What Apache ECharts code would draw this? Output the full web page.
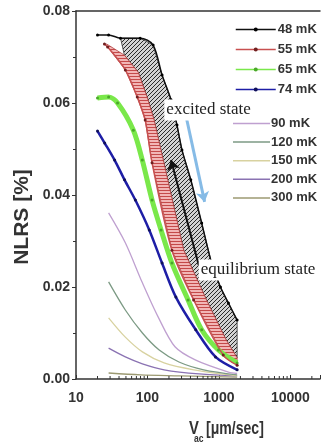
<!DOCTYPE html>
<html>
<head>
<meta charset="utf-8">
<script src="https://cdn.jsdelivr.net/npm/echarts@6/dist/echarts.min.js"></script>
<style>
  html, body { margin: 0; padding: 0; background: #fff; }
  #main { width: 323px; height: 448px; }
</style>
</head>
<body>
<div id="main"></div>
<script>
// [V_ac (um/sec), NLRS (%)]
const curve48 = [[20, 0.0748], [28.6, 0.0748], [42, 0.0741], [79, 0.0741], [120, 0.0726], [160, 0.0661],
  [214, 0.0607], [259, 0.0552], [304, 0.0498], [404, 0.0433], [574, 0.0339], [790, 0.0252],
  [1050, 0.0200], [1360, 0.0165], [1800, 0.0128]];
const curve55 = [[25, 0.0728], [27.7, 0.0722], [49, 0.0672], [72, 0.0613], [93, 0.0563], [116, 0.0470],
  [220, 0.0280], [443, 0.0172], [1150, 0.0052], [1800, 0.0030]];
// right edge of the red band (= left edge of the hatched area)
const curve55Edge = [[27, 0.0728], [47.6, 0.0704], [74.3, 0.0667], [99, 0.0613], [124, 0.0563], [170, 0.0470],
  [322, 0.0280], [670, 0.0172], [1265, 0.0085], [1800, 0.0046]];
const curve65 = [[20, 0.0611], [28.6, 0.0613], [38.2, 0.0600], [63.5, 0.0541], [84.7, 0.0476], [116, 0.0389],
  [155, 0.0324], [220, 0.0252], [370, 0.0172], [574, 0.0107], [986, 0.0063], [1800, 0.0035]];
const curve74 = [[20, 0.0539], [25.2, 0.0513], [34.7, 0.0476], [47.8, 0.0433], [67.7, 0.0389], [106, 0.0324],
  [160, 0.0252], [250, 0.0178], [474, 0.0107], [897, 0.0048], [1800, 0.0020]];
const curve90 = [[28.6, 0.0361], [49, 0.0296], [85, 0.0209], [141, 0.0135], [243, 0.0070], [474, 0.0041],
  [1360, 0.0015], [1800, 0.0012]];
const curve120 = [[28.6, 0.0211], [49, 0.0150], [85, 0.0100], [146, 0.0063], [276, 0.0037], [612, 0.0020], [1800, 0.0009]];
const curve150 = [[28.6, 0.0133], [49, 0.0091], [85, 0.0059], [171, 0.0035], [445, 0.0020], [1800, 0.0007]];
const curve200 = [[28.6, 0.0067], [49, 0.0048], [85, 0.0033], [171, 0.0020], [530, 0.0011], [1800, 0.0007]];
const curve300 = [[28.6, 0.0013], [80, 0.0009], [280, 0.0007], [1800, 0.0004]];

const legendTop = ['48 mK', '55 mK', '65 mK', '74 mK'];
const legendBottom = ['90 mK', '120 mK', '150 mK', '200 mK', '300 mK'];
const xLabels = [10, 100, 1000, 10000];
const minorTickValues = [20, 30, 40, 50, 60, 70, 80, 90, 200, 300, 400, 500, 600, 700, 800, 900,
  2000, 3000, 4000, 5000, 6000, 7000, 8000, 9000, 20000];

// arrows and notes, in data coords
const excitedArrow = [[344, 0.0574], [631, 0.0385]];
const equilArrow = [[521, 0.0248], [214, 0.0476]];
const excitedNote = [717, 0.0585];
const equilNote = [3530, 0.0237];

const SANS = '"Liberation Sans", Arial, sans-serif';
const SERIF = '"Liberation Serif", "Times New Roman", serif';

function makeHatch(bg, fg, size, horizontal) {
  const c = document.createElement('canvas');
  c.width = c.height = size;
  const ctx = c.getContext('2d');
  ctx.fillStyle = bg;
  ctx.fillRect(0, 0, size, size);
  ctx.strokeStyle = fg;
  ctx.lineWidth = 1;
  ctx.beginPath();
  if (horizontal) {
    ctx.moveTo(0, 1.5); ctx.lineTo(size, 1.5);
  } else {
    ctx.moveTo(0, size); ctx.lineTo(size, 0);
    ctx.moveTo(-1, 1); ctx.lineTo(1, -1);
    ctx.moveTo(size - 1, size + 1); ctx.lineTo(size + 1, size - 1);
  }
  ctx.stroke();
  return c;
}

function polygonSeries(name, pts, fill, stroke) {
  return {
    type: 'custom',
    name: name,
    z: 1,
    silent: true,
    data: [pts[0]],
    renderItem: function (params, api) {
      return {
        type: 'polygon',
        shape: { points: pts.map(p => api.coord(p)) },
        style: { fill: fill, stroke: stroke, lineWidth: 0.8 }
      };
    }
  };
}

function lineSeries(name, data, color, width, dotColor) {
  const s = {
    type: 'line',
    name: name,
    data: data,
    smooth: 0.3,
    color: color,
    lineStyle: { color: color, width: width },
    emphasis: { disabled: true }
  };
  if (dotColor) {
    s.symbol = 'circle';
    s.symbolSize = 3;
    s.itemStyle = { color: dotColor };
  } else {
    s.symbol = 'none';
  }
  return s;
}

const grayPoly = curve48.slice(2).concat(curve55Edge.slice(1).reverse());
const redPoly = curve55.concat(curve55Edge.slice().reverse());

const chart = echarts.init(document.getElementById('main'));

const legendText = { color: '#333', fontSize: 13, fontWeight: 'bold', fontFamily: SANS };

const option = {
  animation: false,
  backgroundColor: '#fff',
  grid: { left: 76, right: 0, top: 11, bottom: 69 },
  xAxis: [{
    type: 'log',
    min: 10,
    max: 26000,
    axisLine: { lineStyle: { color: '#333', width: 1.5 } },
    axisTick: { inside: true, length: 4, lineStyle: { color: '#333' } },
    axisLabel: {
      margin: 12,
      color: '#333',
      fontSize: 14,
      fontWeight: 'bold',
      fontFamily: SANS,
      formatter: v => xLabels.includes(Math.round(v)) ? String(Math.round(v)) : ''
    },
    splitLine: { show: false }
  }, {
    type: 'log',
    position: 'top',
    min: 10,
    max: 26000,
    axisLine: { lineStyle: { color: '#333', width: 1.5 } },
    axisTick: { show: false },
    axisLabel: { show: false },
    splitLine: { show: false }
  }],
  yAxis: {
    type: 'value',
    min: 0,
    max: 0.08,
    interval: 0.02,
    axisLine: { show: true, lineStyle: { color: '#333', width: 1.5 } },
    axisTick: { show: true, length: 4, lineStyle: { color: '#333' } },
    minorTick: { show: true, splitNumber: 2, length: 3, lineStyle: { color: '#333' } },
    axisLabel: {
      margin: 6,
      color: '#333',
      fontSize: 14,
      fontWeight: 'bold',
      fontFamily: SANS,
      formatter: v => v.toFixed(2)
    },
    splitLine: { show: false }
  },
  legend: [{
    data: legendTop,
    orient: 'vertical',
    left: 230,
    top: 18,
    itemWidth: 40,
    itemHeight: 5,
    itemGap: 7,
    selectedMode: false,
    lineStyle: { width: 1.5 },
    textStyle: Object.assign({ padding: [0, 0, 0, -3] }, legendText)
  }, {
    data: legendBottom,
    orient: 'vertical',
    icon: 'rect',
    left: 228,
    top: 112,
    itemWidth: 37,
    itemHeight: 1.5,
    itemGap: 5.6,
    selectedMode: false,
    textStyle: Object.assign({ padding: [0, 0, 0, -4] }, legendText)
  }],
  series: [
    polygonSeries('hatchGray', grayPoly, { image: makeHatch('#d2d2d2', '#2a2a2a', 4, false), repeat: 'repeat' }, '#333'),
    polygonSeries('hatchRed', redPoly, { image: makeHatch('#f2b6b6', '#c44a4a', 3, true), repeat: 'repeat' }, '#b04040'),
    lineSeries('300 mK', curve300, '#9c9a72', 1.3),
    lineSeries('200 mK', curve200, '#8a72b2', 1.3),
    lineSeries('150 mK', curve150, '#d8d2a0', 1.3),
    lineSeries('120 mK', curve120, '#7c9a84', 1.3),
    lineSeries('90 mK', curve90, '#bfa0d0', 1.3),
    lineSeries('74 mK', curve74, '#1e1ea6', 2.5, '#10105a'),
    lineSeries('65 mK', curve65, '#7ae84a', 5, '#4aa82a'),
    lineSeries('55 mK', curve55, '#c85050', 1.5, '#702020'),
    lineSeries('48 mK', curve48, '#111', 1.5, '#000'),
    {
      type: 'custom',
      name: 'minorTicks',
      silent: true,
      z: 5,
      data: minorTickValues.map(v => [v, 0]),
      renderItem: function (params, api) {
        const p = api.coord([api.value(0), 0]);
        return {
          type: 'line',
          shape: { x1: p[0], y1: p[1], x2: p[0], y2: p[1] - 3 },
          style: { stroke: '#333', lineWidth: 1 }
        };
      }
    },
    {
      type: 'line',
      name: 'notes',
      data: [],
      z: 10,
      markLine: {
        silent: true,
        symbol: ['none', 'arrow'],
        symbolSize: 10,
        label: { show: false },
        data: [
          [{ coord: excitedArrow[0], lineStyle: { color: '#86bbe6', width: 3, type: 'solid' } }, { coord: excitedArrow[1] }],
          [{ coord: equilArrow[0], lineStyle: { color: '#111', width: 2, type: 'solid' } }, { coord: equilArrow[1] }]
        ]
      },
      markPoint: {
        silent: true,
        symbol: 'rect',
        symbolSize: 1,
        itemStyle: { color: 'rgba(0,0,0,0)' },
        label: {
          show: true,
          position: 'inside',
          color: '#222',
          fontFamily: SERIF,
          fontSize: 17,
          backgroundColor: '#fff',
          padding: [2, 2]
        },
        data: [
          { coord: excitedNote, value: 'excited state', label: { formatter: 'excited state' } },
          { coord: equilNote, value: 'equilibrium state', label: { formatter: 'equilibrium state' } }
        ]
      }
    }
  ],
  graphic: [
    {
      type: 'text',
      x: 22,
      y: 217,
      rotation: Math.PI / 2,
      style: { text: 'NLRS [%]', font: 'bold 21px ' + SANS, fill: '#333', align: 'center', verticalAlign: 'middle' }
    },
    {
      type: 'text',
      x: 189,
      y: 429,
      scaleX: 0.78,
      style: { text: 'V', font: 'bold 19px ' + SANS, fill: '#333', align: 'left', verticalAlign: 'middle' }
    },
    {
      type: 'text',
      x: 194,
      y: 439,
      scaleX: 0.78,
      style: { text: 'ac', font: 'bold 11px ' + SANS, fill: '#333', align: 'left', verticalAlign: 'middle' }
    },
    {
      type: 'text',
      x: 206,
      y: 429,
      scaleX: 0.74,
      style: { text: '[μm/sec]', font: 'bold 19px ' + SANS, fill: '#333', align: 'left', verticalAlign: 'middle' }
    }
  ]
};

chart.setOption(option);
window.addEventListener('resize', () => chart.resize());
</script>
</body>
</html>
